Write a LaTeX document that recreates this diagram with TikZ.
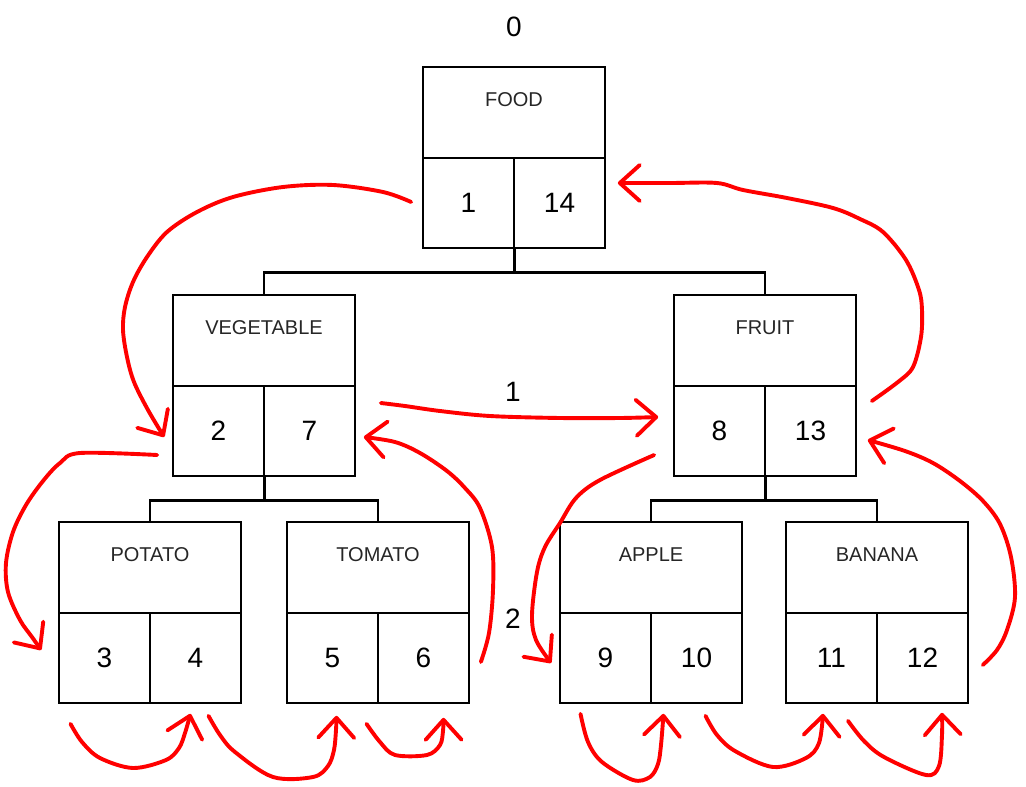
\documentclass[tikz,border=0pt]{standalone}
\usepackage{fontspec}
\setmainfont{Liberation Sans}
\usetikzlibrary{arrows.meta,calc}
\newcommand\treebox[6]{%
  \node[titlecell] (#1) at (#2+91,#3+45.5) {#4};
  \node[numcell] (#1L) at (#2+45.5,#3+136) {#5};
  \node[numcell] (#1R) at (#2+136.5,#3+136) {#6};
}
\begin{document}
\begin{tikzpicture}[x=1pt,y=-1pt,
  titlecell/.style={draw=black, line width=1.7pt, minimum width=182pt, minimum height=91pt,
    inner sep=0pt, font=\fontsize{20}{20}\selectfont, text=black!85,
    text height=14.3pt, text depth=27.3pt},
  numcell/.style={draw=black, line width=1.7pt, minimum width=91pt, minimum height=90pt,
    inner sep=0pt, font=\fontsize{28}{28}\selectfont},
  levellabel/.style={font=\fontsize{28}{28}\selectfont, inner sep=0pt},
  treeline/.style={line width=2.8pt, line join=miter},
  redarrow/.style={red, line width=3.9pt, line cap=round, line join=round,
    -{Straight Barb[length=20pt,width=36pt,line cap=round,line join=round]}},
  hand/.style={smooth, tension=0.55}
]
\useasboundingbox (0,0) rectangle (1026,787);

% boxes
\treebox{food}{423}{67}{FOOD}{1}{14}
\treebox{veg}{173}{295}{VEGETABLE}{2}{7}
\treebox{fruit}{674}{295}{FRUIT}{8}{13}
\treebox{pot}{59}{522}{POTATO}{3}{4}
\treebox{tom}{287}{522}{TOMATO}{5}{6}
\treebox{app}{560}{522}{APPLE}{9}{10}
\treebox{ban}{786}{522}{BANANA}{11}{12}

% level labels
\node[levellabel] (lvl0) at (514,27) {0};
\node[levellabel] (lvl1) at (513,392) {1};
\node[levellabel] (lvl2) at (513,619) {2};

% tree connectors
\draw[treeline] (foodL.south east) -- ++(0,24) -| (veg.north);
\draw[treeline] (foodL.south east) -- ++(0,24) -| (fruit.north);
\draw[treeline] (vegL.south east) -- ++(0,24) -| (pot.north);
\draw[treeline] (vegL.south east) -- ++(0,24) -| (tom.north);
\draw[treeline] (fruitL.south east) -- ++(0,24) -| (app.north);
\draw[treeline] (fruitL.south east) -- ++(0,24) -| (ban.north);

% red traversal arrows: end points
\coordinate (a1s) at ($(foodL.west)+(-11,-1)$);
\coordinate (a1e) at ($(vegL.west)+(-8,6)$);
\coordinate (a2s) at ($(vegR.east)+(25,-28)$);
\coordinate (a2e) at ($(fruitL.west)+(-15,-14)$);
\coordinate (a3s) at ($(fruitR.east)+(15,-30)$);
\coordinate (a3e) at ($(foodR.east)+(12,-20)$);
\coordinate (a4s) at ($(vegL.west)+(-15,24)$);
\coordinate (a4e) at ($(potL.west)+(-17,-8)$);
\coordinate (a5s) at ($(potL.south)+(-34,20)$);
\coordinate (a5e) at ($(potR.south)+(-5,10)$);
\coordinate (a6s) at ($(potR.south)+(13,12)$);
\coordinate (a6e) at ($(tomL.south)+(4,12)$);
\coordinate (a7s) at ($(tomL.south)+(34,20)$);
\coordinate (a7e) at ($(tomR.south)+(20,14)$);
\coordinate (a8s) at ($(tomR.east)+(11,4)$);
\coordinate (a8e) at ($(vegR.east)+(8,6)$);
\coordinate (a9s) at ($(fruitL.west)+(-19,24)$);
\coordinate (a9e) at ($(appL.west)+(-8,5)$);
\coordinate (a10s) at ($(appL.south)+(-25,10)$);
\coordinate (a10e) at ($(appR.south)+(-33,10)$);
\coordinate (a11s) at ($(appR.south)+(9,12)$);
\coordinate (a11e) at ($(banL.south)+(-8.5,10)$);
\coordinate (a12s) at ($(banL.south)+(16.5,17)$);
\coordinate (a12e) at ($(banR.south)+(19.5,9)$);
\coordinate (a13s) at ($(banR.east)+(14,7)$);
\coordinate (a13e) at ($(fruitR.east)+(11,9)$);

% red traversal arrows: paths
\draw[redarrow] plot[hand] coordinates {(a1s) (383,192) (333,185) (283,187) (233,197) (197,212) (167,232) (147,257) (133,282) (125,307) (123,330) (127,357) (134,382) (148,410) (a1e)};
\draw[redarrow] plot[hand] coordinates {(a2s) (405,406) (440,411) (490,416) (560,418) (620,418) (a2e)};
\draw[redarrow] plot[hand] coordinates {(a3s) (898,382) (913,367) (921,337) (922,310) (919,290) (906,260) (883,232) (860,219) (833,208) (787,198) (743,190) (717,183) (670,183) (a3e)};
\draw[redarrow] plot[hand] coordinates {(a4s) (80,453) (60,463) (43,481) (26,505) (13,532) (6,563) (8,592) (20,620) (32,637) (a4e)};
\draw[redarrow] plot[hand] coordinates {(a5s) (82,742) (100,758) (133,768) (166,760) (179,748) (185,733) (a5e)};
\draw[redarrow] plot[hand] coordinates {(a6s) (220,735) (235,752) (273,777) (313,777) (328,766) (334,750) (336,730) (a6e)};
\draw[redarrow] plot[hand] coordinates {(a7s) (380,742) (395,755) (427,755) (440,745) (443,731) (a7e)};
\draw[redarrow] plot[hand] coordinates {(a8s) (489,633) (493,590) (492,547) (480,508) (465,488) (447,471) (420,453) (395,442) (a8e)};
\draw[redarrow] plot[hand] coordinates {(a9s) (600,480) (576,498) (560,523) (545,547) (537,572) (532,615) (536,640) (a9e)};
\draw[redarrow] plot[hand] coordinates {(a10s) (588,742) (602,762) (633,780) (650,777) (658,764) (661,745) (a10e)};
\draw[redarrow] plot[hand] coordinates {(a11s) (717,735) (735,751) (773,767) (806,758) (819,743) (a11e)};
\draw[redarrow] plot[hand] coordinates {(a12s) (864,741) (884,757) (926,775) (939,766) (942,735) (a12e)};
\draw[redarrow] plot[hand] coordinates {(a13s) (997,650) (1007,630) (1015,597) (1011,557) (1000,524) (983,501) (960,481) (933,463) (905,451) (a13e)};
\end{tikzpicture}
\end{document}
